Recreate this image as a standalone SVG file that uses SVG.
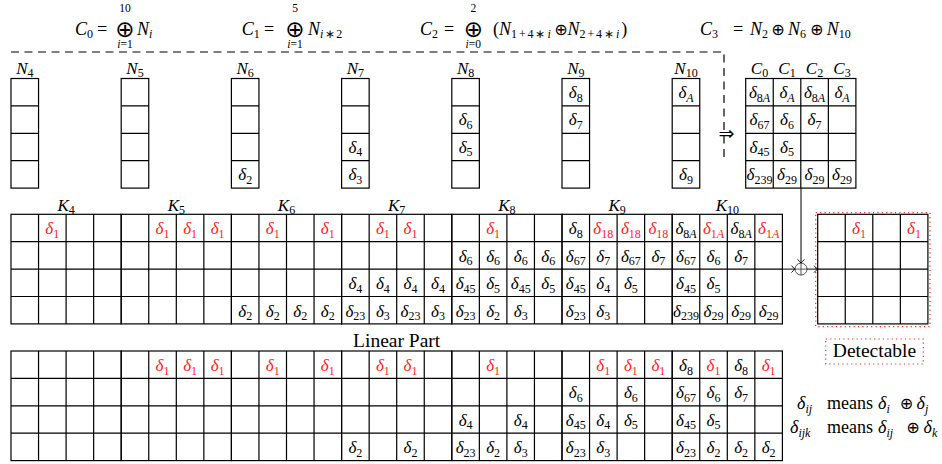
<svg xmlns="http://www.w3.org/2000/svg" xmlns:xlink="http://www.w3.org/1999/xlink" width="942" height="464" viewBox="0 0 942 464">
<style>
.t{font-family:"Liberation Serif",serif;font-size:17px;font-style:italic;fill:#000;text-anchor:middle}
.u{font-family:"Liberation Serif",serif;font-size:18px;fill:#000}
.m{text-anchor:middle}
.i{font-style:italic}
.s{font-size:12px;font-style:normal}
.si{font-style:italic}
.r{fill:#f22}
.big{font-family:"DejaVu Sans",sans-serif;font-size:23px;fill:#000;text-anchor:middle}
.op{font-family:"DejaVu Sans",sans-serif;font-size:16px;fill:#000;text-anchor:middle}
.lim{font-family:"Liberation Serif",serif;font-size:11.5px;fill:#000;text-anchor:middle}
.ln{fill:none;stroke:#000;stroke-width:1}
.dot{fill:none;stroke:#f22;stroke-width:1.2;stroke-dasharray:1.2 3.2}
</style>
<defs>
<g id="blk" fill="none" stroke="#000" stroke-width="1.2"><rect width="110.2" height="109.6"/><path d="M27.55 0V109.6M55.1 0V109.6M82.65 0V109.6M0 27.4H110.2M0 54.8H110.2M0 82.2H110.2"/></g>
<g id="col" fill="none" stroke="#000" stroke-width="1.2"><rect width="27.55" height="109.6"/><path d="M0 27.4H27.55M0 54.8H27.55M0 82.2H27.55"/></g>
<marker id="ar" markerUnits="userSpaceOnUse" markerWidth="10" markerHeight="10" viewBox="-5 -5 10 10" refX="0" refY="0" orient="auto"><path d="M-3.5 -3.5Q-1 -0.6 0 0Q-1 0.6 -3.5 3.5" fill="none" stroke="#000" stroke-width="0.9"/></marker>
</defs>

<g id="formulas">
<text class="u" x="75" y="34.5"><tspan class="i">C</tspan><tspan class="s" dy="3">0</tspan></text>
<text class="u m" x="102" y="34.5">=</text>
<text class="big" x="125" y="36.5">⊕</text>
<text class="lim" x="125" y="12">10</text>
<text class="lim" x="125" y="47.5"><tspan class="si">i</tspan>=1</text>
<text class="u" x="137" y="34.5"><tspan class="i">N</tspan><tspan class="s si" dy="3">i</tspan></text>

<text class="u" x="241.7" y="34.5"><tspan class="i">C</tspan><tspan class="s" dy="3">1</tspan></text>
<text class="u m" x="269" y="34.5">=</text>
<text class="big" x="295" y="36.5">⊕</text>
<text class="lim" x="295" y="12">5</text>
<text class="lim" x="295" y="47.5"><tspan class="si">i</tspan>=1</text>
<text class="u" x="308" y="34.5"><tspan class="i">N</tspan><tspan class="s" dy="3" style="letter-spacing:1.5px"><tspan class="si">i</tspan>∗2</tspan></text>

<text class="u" x="420" y="34.5"><tspan class="i">C</tspan><tspan class="s" dy="3">2</tspan></text>
<text class="u m" x="449" y="34.5">=</text>
<text class="big" x="473.3" y="36.5">⊕</text>
<text class="lim" x="473.3" y="12">2</text>
<text class="lim" x="473.3" y="47.5"><tspan class="si">i</tspan>=0</text>
<text class="u" x="493" y="34.5">(<tspan class="i">N</tspan><tspan class="s" dy="3" style="letter-spacing:1.9px">1+4∗<tspan class="si">i</tspan></tspan></text>
<text class="op" x="561" y="34.5">⊕</text>
<text class="u" x="567.5" y="34.5"><tspan class="i">N</tspan><tspan class="s" dy="3" style="letter-spacing:1.9px">2+4∗<tspan class="si">i</tspan></tspan><tspan dy="-3">)</tspan></text>

<text class="u" x="700" y="34.5"><tspan class="i">C</tspan><tspan class="s" dy="3">3</tspan></text>
<text class="u m" x="738" y="34.5">=</text>
<text class="u" x="750" y="34.5"><tspan class="i">N</tspan><tspan class="s" dy="3">2</tspan></text>
<text class="op" x="778" y="34.5">⊕</text>
<text class="u" x="788" y="34.5"><tspan class="i">N</tspan><tspan class="s" dy="3">6</tspan></text>
<text class="op" x="816.7" y="34.5">⊕</text>
<text class="u" x="826.7" y="34.5"><tspan class="i">N</tspan><tspan class="s" dy="3">10</tspan></text>
</g>

<path id="divider" d="M11 52H724V158" fill="none" stroke="#000" stroke-width="1.2" stroke-dasharray="8 5.5"/>
<text class="op" x="726.5" y="139.5" style="font-size:19px">⇒</text>

<g id="N4"><text class="t" x="24.8" y="73.5">N<tspan class="s" dy="3">4</tspan></text><use xlink:href="#col" x="11" y="78.5"/></g>
<g id="N5"><text class="t" x="135" y="73.5">N<tspan class="s" dy="3">5</tspan></text><use xlink:href="#col" x="121.2" y="78.5"/></g>
<g id="N6"><text class="t" x="245.2" y="73.5">N<tspan class="s" dy="3">6</tspan></text><use xlink:href="#col" x="231.4" y="78.5"/>
<text class="t" x="245.2" y="180.2">δ<tspan class="s" dy="3.5">2</tspan></text></g>
<g id="N7"><text class="t" x="355.4" y="73.5">N<tspan class="s" dy="3">7</tspan></text><use xlink:href="#col" x="341.6" y="78.5"/>
<text class="t" x="355.4" y="152.8">δ<tspan class="s" dy="3.5">4</tspan></text><text class="t" x="355.4" y="180.2">δ<tspan class="s" dy="3.5">3</tspan></text></g>
<g id="N8"><text class="t" x="465.6" y="73.5">N<tspan class="s" dy="3">8</tspan></text><use xlink:href="#col" x="451.8" y="78.5"/>
<text class="t" x="465.6" y="125.4">δ<tspan class="s" dy="3.5">6</tspan></text><text class="t" x="465.6" y="152.8">δ<tspan class="s" dy="3.5">5</tspan></text></g>
<g id="N9"><text class="t" x="575.8" y="73.5">N<tspan class="s" dy="3">9</tspan></text><use xlink:href="#col" x="562" y="78.5"/>
<text class="t" x="575.8" y="98">δ<tspan class="s" dy="3.5">8</tspan></text><text class="t" x="575.8" y="125.4">δ<tspan class="s" dy="3.5">7</tspan></text></g>
<g id="N10"><text class="t" x="686" y="73.5">N<tspan class="s" dy="3">10</tspan></text><use xlink:href="#col" x="672.2" y="78.5"/>
<text class="t" x="686" y="98">δ<tspan class="s si" dy="3.5">A</tspan></text><text class="t" x="686" y="180.2">δ<tspan class="s" dy="3.5">9</tspan></text></g>

<g id="C">
<text class="t" x="759.5" y="73.5">C<tspan class="s" dy="3">0</tspan></text>
<text class="t" x="787" y="73.5">C<tspan class="s" dy="3">1</tspan></text>
<text class="t" x="814.5" y="73.5">C<tspan class="s" dy="3">2</tspan></text>
<text class="t" x="842" y="73.5">C<tspan class="s" dy="3">3</tspan></text>
<use xlink:href="#blk" x="745.7" y="78.5"/>
<text class="t" x="759.5" y="98">δ<tspan class="s" dy="3.5">8<tspan class="si">A</tspan></tspan></text>
<text class="t" x="787" y="98">δ<tspan class="s si" dy="3.5">A</tspan></text>
<text class="t" x="814.5" y="98">δ<tspan class="s" dy="3.5">8<tspan class="si">A</tspan></tspan></text>
<text class="t" x="842" y="98">δ<tspan class="s si" dy="3.5">A</tspan></text>
<text class="t" x="759.5" y="125.4">δ<tspan class="s" dy="3.5">67</tspan></text>
<text class="t" x="787" y="125.4">δ<tspan class="s" dy="3.5">6</tspan></text>
<text class="t" x="814.5" y="125.4">δ<tspan class="s" dy="3.5">7</tspan></text>
<text class="t" x="759.5" y="152.8">δ<tspan class="s" dy="3.5">45</tspan></text>
<text class="t" x="787" y="152.8">δ<tspan class="s" dy="3.5">5</tspan></text>
<text class="t" x="759.5" y="180.2">δ<tspan class="s" dy="3.5">239</tspan></text>
<text class="t" x="787" y="180.2">δ<tspan class="s" dy="3.5">29</tspan></text>
<text class="t" x="814.5" y="180.2">δ<tspan class="s" dy="3.5">29</tspan></text>
<text class="t" x="842" y="180.2">δ<tspan class="s" dy="3.5">29</tspan></text>
</g>

<g id="K4"><text class="t" x="66.1" y="210.5">K<tspan class="s" dy="3">4</tspan></text><use xlink:href="#blk" x="11" y="214.3"/>
<text class="t r" x="52.3" y="234.3">δ<tspan class="s" dy="3.5">1</tspan></text></g>
<g id="K5"><text class="t" x="176.3" y="210.5">K<tspan class="s" dy="3">5</tspan></text><use xlink:href="#blk" x="121.2" y="214.3"/>
<text class="t r" x="162.5" y="234.3">δ<tspan class="s" dy="3.5">1</tspan></text><text class="t r" x="190.1" y="234.3">δ<tspan class="s" dy="3.5">1</tspan></text><text class="t r" x="217.6" y="234.3">δ<tspan class="s" dy="3.5">1</tspan></text></g>
<g id="K6"><text class="t" x="286.5" y="210.5">K<tspan class="s" dy="3">6</tspan></text><use xlink:href="#blk" x="231.4" y="214.3"/>
<text class="t r" x="272.7" y="234.3">δ<tspan class="s" dy="3.5">1</tspan></text><text class="t r" x="327.8" y="234.3">δ<tspan class="s" dy="3.5">1</tspan></text>
<text class="t" x="245.2" y="316.5">δ<tspan class="s" dy="3.5">2</tspan></text><text class="t" x="272.7" y="316.5">δ<tspan class="s" dy="3.5">2</tspan></text><text class="t" x="300.3" y="316.5">δ<tspan class="s" dy="3.5">2</tspan></text><text class="t" x="327.8" y="316.5">δ<tspan class="s" dy="3.5">2</tspan></text></g>
<g id="K7"><text class="t" x="396.7" y="210.5">K<tspan class="s" dy="3">7</tspan></text><use xlink:href="#blk" x="341.6" y="214.3"/>
<text class="t r" x="382.9" y="234.3">δ<tspan class="s" dy="3.5">1</tspan></text><text class="t r" x="410.5" y="234.3">δ<tspan class="s" dy="3.5">1</tspan></text>
<text class="t" x="355.4" y="289.1">δ<tspan class="s" dy="3.5">4</tspan></text><text class="t" x="382.9" y="289.1">δ<tspan class="s" dy="3.5">4</tspan></text><text class="t" x="410.5" y="289.1">δ<tspan class="s" dy="3.5">4</tspan></text><text class="t" x="438" y="289.1">δ<tspan class="s" dy="3.5">4</tspan></text>
<text class="t" x="355.4" y="316.5">δ<tspan class="s" dy="3.5">23</tspan></text><text class="t" x="382.9" y="316.5">δ<tspan class="s" dy="3.5">3</tspan></text><text class="t" x="410.5" y="316.5">δ<tspan class="s" dy="3.5">23</tspan></text><text class="t" x="438" y="316.5">δ<tspan class="s" dy="3.5">3</tspan></text></g>
<g id="K8"><text class="t" x="506.9" y="210.5">K<tspan class="s" dy="3">8</tspan></text><use xlink:href="#blk" x="451.8" y="214.3"/>
<text class="t r" x="493.1" y="234.3">δ<tspan class="s" dy="3.5">1</tspan></text>
<text class="t" x="465.6" y="261.7">δ<tspan class="s" dy="3.5">6</tspan></text><text class="t" x="493.1" y="261.7">δ<tspan class="s" dy="3.5">6</tspan></text><text class="t" x="520.7" y="261.7">δ<tspan class="s" dy="3.5">6</tspan></text><text class="t" x="548.2" y="261.7">δ<tspan class="s" dy="3.5">6</tspan></text>
<text class="t" x="465.6" y="289.1">δ<tspan class="s" dy="3.5">45</tspan></text><text class="t" x="493.1" y="289.1">δ<tspan class="s" dy="3.5">5</tspan></text><text class="t" x="520.7" y="289.1">δ<tspan class="s" dy="3.5">45</tspan></text><text class="t" x="548.2" y="289.1">δ<tspan class="s" dy="3.5">5</tspan></text>
<text class="t" x="465.6" y="316.5">δ<tspan class="s" dy="3.5">23</tspan></text><text class="t" x="493.1" y="316.5">δ<tspan class="s" dy="3.5">2</tspan></text><text class="t" x="520.7" y="316.5">δ<tspan class="s" dy="3.5">3</tspan></text></g>
<g id="K9"><text class="t" x="617.1" y="210.5">K<tspan class="s" dy="3">9</tspan></text><use xlink:href="#blk" x="562" y="214.3"/>
<text class="t" x="575.8" y="234.3">δ<tspan class="s" dy="3.5">8</tspan></text><text class="t r" x="603.3" y="234.3">δ<tspan class="s" dy="3.5">18</tspan></text><text class="t r" x="630.9" y="234.3">δ<tspan class="s" dy="3.5">18</tspan></text><text class="t r" x="658.4" y="234.3">δ<tspan class="s" dy="3.5">18</tspan></text>
<text class="t" x="575.8" y="261.7">δ<tspan class="s" dy="3.5">67</tspan></text><text class="t" x="603.3" y="261.7">δ<tspan class="s" dy="3.5">7</tspan></text><text class="t" x="630.9" y="261.7">δ<tspan class="s" dy="3.5">67</tspan></text><text class="t" x="658.4" y="261.7">δ<tspan class="s" dy="3.5">7</tspan></text>
<text class="t" x="575.8" y="289.1">δ<tspan class="s" dy="3.5">45</tspan></text><text class="t" x="603.3" y="289.1">δ<tspan class="s" dy="3.5">4</tspan></text><text class="t" x="630.9" y="289.1">δ<tspan class="s" dy="3.5">5</tspan></text>
<text class="t" x="575.8" y="316.5">δ<tspan class="s" dy="3.5">23</tspan></text><text class="t" x="603.3" y="316.5">δ<tspan class="s" dy="3.5">3</tspan></text></g>
<g id="K10"><text class="t" x="727.3" y="210.5">K<tspan class="s" dy="3">10</tspan></text><use xlink:href="#blk" x="672.2" y="214.3"/>
<text class="t" x="686" y="234.3">δ<tspan class="s" dy="3.5">8<tspan class="si">A</tspan></tspan></text><text class="t r" x="713.5" y="234.3">δ<tspan class="s" dy="3.5">1<tspan class="si">A</tspan></tspan></text><text class="t" x="741.1" y="234.3">δ<tspan class="s" dy="3.5">8<tspan class="si">A</tspan></tspan></text><text class="t r" x="768.6" y="234.3">δ<tspan class="s" dy="3.5">1<tspan class="si">A</tspan></tspan></text>
<text class="t" x="686" y="261.7">δ<tspan class="s" dy="3.5">67</tspan></text><text class="t" x="713.5" y="261.7">δ<tspan class="s" dy="3.5">6</tspan></text><text class="t" x="741.1" y="261.7">δ<tspan class="s" dy="3.5">7</tspan></text>
<text class="t" x="686" y="289.1">δ<tspan class="s" dy="3.5">45</tspan></text><text class="t" x="713.5" y="289.1">δ<tspan class="s" dy="3.5">5</tspan></text>
<text class="t" x="686" y="316.5">δ<tspan class="s" dy="3.5">239</tspan></text><text class="t" x="713.5" y="316.5">δ<tspan class="s" dy="3.5">29</tspan></text><text class="t" x="741.1" y="316.5">δ<tspan class="s" dy="3.5">29</tspan></text><text class="t" x="768.6" y="316.5">δ<tspan class="s" dy="3.5">29</tspan></text></g>

<g id="xor" fill="none" stroke="#444" stroke-width="0.9"><circle cx="801" cy="269.1" r="6"/><path d="M795 269.1H807M801 263.1V275.1"/></g>

<g id="detect">
<rect class="dot" x="815.7" y="212.6" width="114.3" height="114"/>
<use xlink:href="#blk" x="817.7" y="214.3"/>
<text class="t r" x="859" y="234.3">δ<tspan class="s" dy="3.5">1</tspan></text><text class="t r" x="914" y="234.3">δ<tspan class="s" dy="3.5">1</tspan></text>
<rect class="dot" x="825.7" y="339" width="97.6" height="25"/>
<text class="u m" x="874.5" y="357" style="font-size:19.5px">Detectable</text>
</g>

<g id="linear">
<text class="u m" x="396.7" y="346.5" style="font-size:19.5px">Linear Part</text>
<g id="L4"><use xlink:href="#blk" x="11" y="351"/></g>
<g id="L5"><use xlink:href="#blk" x="121.2" y="351"/>
<text class="t r" x="162.5" y="371">δ<tspan class="s" dy="3.5">1</tspan></text><text class="t r" x="190.1" y="371">δ<tspan class="s" dy="3.5">1</tspan></text><text class="t r" x="217.6" y="371">δ<tspan class="s" dy="3.5">1</tspan></text></g>
<g id="L6"><use xlink:href="#blk" x="231.4" y="351"/>
<text class="t r" x="272.7" y="371">δ<tspan class="s" dy="3.5">1</tspan></text><text class="t r" x="327.8" y="371">δ<tspan class="s" dy="3.5">1</tspan></text></g>
<g id="L7"><use xlink:href="#blk" x="341.6" y="351"/>
<text class="t r" x="382.9" y="371">δ<tspan class="s" dy="3.5">1</tspan></text><text class="t r" x="410.5" y="371">δ<tspan class="s" dy="3.5">1</tspan></text>
<text class="t" x="355.4" y="453.2">δ<tspan class="s" dy="3.5">2</tspan></text><text class="t" x="410.5" y="453.2">δ<tspan class="s" dy="3.5">2</tspan></text></g>
<g id="L8"><use xlink:href="#blk" x="451.8" y="351"/>
<text class="t r" x="493.1" y="371">δ<tspan class="s" dy="3.5">1</tspan></text>
<text class="t" x="465.6" y="425.8">δ<tspan class="s" dy="3.5">4</tspan></text><text class="t" x="520.7" y="425.8">δ<tspan class="s" dy="3.5">4</tspan></text>
<text class="t" x="465.6" y="453.2">δ<tspan class="s" dy="3.5">23</tspan></text><text class="t" x="493.1" y="453.2">δ<tspan class="s" dy="3.5">2</tspan></text><text class="t" x="520.7" y="453.2">δ<tspan class="s" dy="3.5">3</tspan></text></g>
<g id="L9"><use xlink:href="#blk" x="562" y="351"/>
<text class="t r" x="603.3" y="371">δ<tspan class="s" dy="3.5">1</tspan></text><text class="t r" x="630.9" y="371">δ<tspan class="s" dy="3.5">1</tspan></text><text class="t r" x="658.4" y="371">δ<tspan class="s" dy="3.5">1</tspan></text>
<text class="t" x="575.8" y="398.4">δ<tspan class="s" dy="3.5">6</tspan></text><text class="t" x="630.9" y="398.4">δ<tspan class="s" dy="3.5">6</tspan></text>
<text class="t" x="575.8" y="425.8">δ<tspan class="s" dy="3.5">45</tspan></text><text class="t" x="603.3" y="425.8">δ<tspan class="s" dy="3.5">4</tspan></text><text class="t" x="630.9" y="425.8">δ<tspan class="s" dy="3.5">5</tspan></text>
<text class="t" x="575.8" y="453.2">δ<tspan class="s" dy="3.5">23</tspan></text><text class="t" x="603.3" y="453.2">δ<tspan class="s" dy="3.5">3</tspan></text></g>
<g id="L10"><use xlink:href="#blk" x="672.2" y="351"/>
<text class="t" x="686" y="371">δ<tspan class="s" dy="3.5">8</tspan></text><text class="t r" x="713.5" y="371">δ<tspan class="s" dy="3.5">1</tspan></text><text class="t" x="741.1" y="371">δ<tspan class="s" dy="3.5">8</tspan></text><text class="t r" x="768.6" y="371">δ<tspan class="s" dy="3.5">1</tspan></text>
<text class="t" x="686" y="398.4">δ<tspan class="s" dy="3.5">67</tspan></text><text class="t" x="713.5" y="398.4">δ<tspan class="s" dy="3.5">6</tspan></text><text class="t" x="741.1" y="398.4">δ<tspan class="s" dy="3.5">7</tspan></text>
<text class="t" x="686" y="425.8">δ<tspan class="s" dy="3.5">45</tspan></text><text class="t" x="713.5" y="425.8">δ<tspan class="s" dy="3.5">5</tspan></text>
<text class="t" x="686" y="453.2">δ<tspan class="s" dy="3.5">23</tspan></text><text class="t" x="713.5" y="453.2">δ<tspan class="s" dy="3.5">2</tspan></text><text class="t" x="741.1" y="453.2">δ<tspan class="s" dy="3.5">2</tspan></text><text class="t" x="768.6" y="453.2">δ<tspan class="s" dy="3.5">2</tspan></text></g>
</g>

<g id="legend">
<text class="u" x="797" y="409"><tspan class="i">δ</tspan><tspan class="s si" dy="3.5">ij</tspan></text>
<text class="u" x="827" y="409">means</text>
<text class="u" x="878" y="409"><tspan class="i">δ</tspan><tspan class="s si" dy="3.5">i</tspan></text>
<text class="op" x="906.5" y="409">⊕</text>
<text class="u" x="916.5" y="409"><tspan class="i">δ</tspan><tspan class="s si" dy="3.5">j</tspan></text>
<text class="u" x="790" y="433"><tspan class="i">δ</tspan><tspan class="s si" dy="3.5">ijk</tspan></text>
<text class="u" x="827" y="433">means</text>
<text class="u" x="878" y="433"><tspan class="i">δ</tspan><tspan class="s si" dy="3.5">ij</tspan></text>
<text class="op" x="913" y="433">⊕</text>
<text class="u" x="923.5" y="433"><tspan class="i">δ</tspan><tspan class="s si" dy="3.5">k</tspan></text>
</g>

<g id="connectors" class="ln">
<path d="M801 188.1V263" marker-end="url(#ar)"/>
<path d="M781.8 269.1H795" marker-end="url(#ar)"/>
<path d="M807 269.1H817.5" marker-end="url(#ar)"/>
</g>
</svg>
